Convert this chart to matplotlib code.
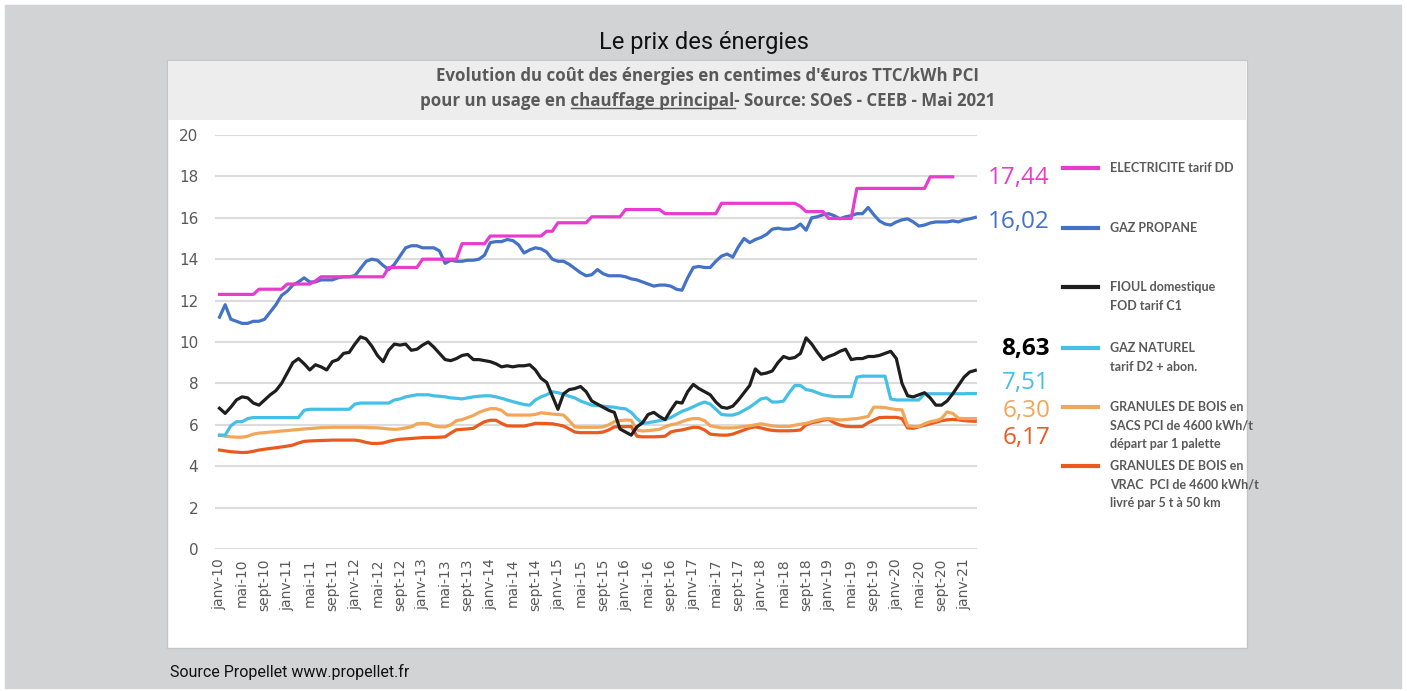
import numpy as np
import matplotlib
matplotlib.use("Agg")
import matplotlib.pyplot as plt
from matplotlib.patches import Rectangle
from matplotlib.lines import Line2D

W, H = 1407, 691

# month labels, one tick every 4 months from janv-10 to janv-21
tick_labels = [f"{mo}-{y}" for y in range(10, 22) for mo in ("janv", "mai", "sept")][:34]

# monthly prices, cents/kWh, from janv-10
electricite = [
    12.3, 12.3, 12.3, 12.3, 12.3, 12.3, 12.3, 12.55, 12.55, 12.55,
    12.55, 12.55, 12.8, 12.8, 12.8, 12.8, 12.8, 12.95, 13.15, 13.15,
    13.15, 13.15, 13.15, 13.15, 13.15, 13.15, 13.15, 13.15, 13.15, 13.15,
    13.6, 13.6, 13.6, 13.6, 13.6, 13.6, 14.0, 14.0, 14.0, 14.0,
    14.0, 14.0, 14.0, 14.75, 14.75, 14.75, 14.75, 14.75, 15.12, 15.12,
    15.12, 15.12, 15.12, 15.12, 15.12, 15.12, 15.12, 15.12, 15.35, 15.35,
    15.76, 15.76, 15.76, 15.76, 15.76, 15.76, 16.05, 16.05, 16.05, 16.05,
    16.05, 16.05, 16.4, 16.4, 16.4, 16.4, 16.4, 16.4, 16.4, 16.2,
    16.2, 16.2, 16.2, 16.2, 16.2, 16.2, 16.2, 16.2, 16.2, 16.7,
    16.7, 16.7, 16.7, 16.7, 16.7, 16.7, 16.7, 16.7, 16.7, 16.7,
    16.7, 16.7, 16.7, 16.55, 16.3, 16.3, 16.3, 16.3, 15.97, 15.97,
    15.97, 15.97, 15.97, 17.42, 17.42, 17.42, 17.42, 17.42, 17.42, 17.42,
    17.42, 17.42, 17.42, 17.42, 17.42, 17.42, 17.98, 17.98, 17.98, 17.98,
    17.98,
]
propane = [
    11.2, 11.8, 11.1, 11.0, 10.9, 10.9, 11.0, 11.0, 11.1, 11.45,
    11.8, 12.25, 12.45, 12.75, 12.9, 13.1, 12.9, 12.9, 13.0, 13.0,
    13.0, 13.1, 13.15, 13.15, 13.2, 13.55, 13.9, 14.0, 13.95, 13.7,
    13.5, 13.75, 14.15, 14.55, 14.65, 14.65, 14.55, 14.55, 14.55, 14.4,
    13.8, 13.95, 13.9, 13.9, 13.95, 13.95, 14.0, 14.2, 14.8, 14.85,
    14.85, 14.95, 14.9, 14.7, 14.3, 14.45, 14.55, 14.5, 14.35, 14.0,
    13.9, 13.9, 13.75, 13.55, 13.35, 13.2, 13.25, 13.5, 13.3, 13.2,
    13.2, 13.2, 13.15, 13.05, 13.0, 12.9, 12.8, 12.7, 12.75, 12.75,
    12.7, 12.55, 12.5, 13.1, 13.6, 13.65, 13.6, 13.6, 13.9, 14.15,
    14.25, 14.1, 14.6, 15.0, 14.8, 14.95, 15.05, 15.2, 15.45, 15.5,
    15.45, 15.45, 15.5, 15.7, 15.4, 16.0, 16.05, 16.15, 16.2, 16.1,
    15.95, 16.05, 16.1, 16.2, 16.2, 16.5, 16.15, 15.85, 15.7, 15.65,
    15.8, 15.9, 15.95, 15.8, 15.6, 15.65, 15.75, 15.8, 15.8, 15.8,
    15.85, 15.8, 15.9, 15.95, 16.02,
]
fioul = [
    6.8, 6.55, 6.85, 7.2, 7.35, 7.3, 7.05, 6.95, 7.2, 7.45,
    7.65, 8.0, 8.5, 9.0, 9.2, 8.95, 8.65, 8.9, 8.8, 8.65,
    9.05, 9.15, 9.45, 9.5, 9.9, 10.25, 10.15, 9.8, 9.35, 9.05,
    9.6, 9.9, 9.85, 9.9, 9.6, 9.65, 9.85, 10.0, 9.75, 9.45,
    9.15, 9.1, 9.2, 9.35, 9.4, 9.15, 9.15, 9.1, 9.05, 8.95,
    8.8, 8.85, 8.8, 8.85, 8.85, 8.9, 8.65, 8.25, 8.05, 7.4,
    6.75, 7.5, 7.7, 7.75, 7.85, 7.6, 7.15, 7.0, 6.85, 6.7,
    6.6, 5.8, 5.65, 5.5, 5.9, 6.1, 6.5, 6.6, 6.4, 6.25,
    6.7, 7.1, 7.05, 7.6, 7.95, 7.75, 7.6, 7.45, 7.1, 6.85,
    6.8, 6.9, 7.2, 7.55, 7.9, 8.7, 8.45, 8.5, 8.6, 9.0,
    9.3, 9.2, 9.25, 9.45, 10.2, 9.9, 9.5, 9.15, 9.3, 9.4,
    9.55, 9.65, 9.15, 9.2, 9.2, 9.3, 9.3, 9.35, 9.45, 9.55,
    9.2, 8.0, 7.4, 7.35, 7.45, 7.55, 7.3, 6.95, 6.95, 7.15,
    7.5, 7.9, 8.3, 8.55, 8.63,
]
gaz_naturel = [
    5.5, 5.5, 5.95, 6.15, 6.15, 6.3, 6.35, 6.35, 6.35, 6.35,
    6.35, 6.35, 6.35, 6.35, 6.35, 6.7, 6.75, 6.75, 6.75, 6.75,
    6.75, 6.75, 6.75, 6.75, 7.0, 7.05, 7.05, 7.05, 7.05, 7.05,
    7.05, 7.2, 7.25, 7.35, 7.4, 7.45, 7.45, 7.45, 7.4, 7.38,
    7.35, 7.3, 7.28, 7.25, 7.3, 7.35, 7.38, 7.4, 7.4, 7.35,
    7.28, 7.2, 7.12, 7.05, 6.98, 6.95, 7.2, 7.35, 7.45, 7.6,
    7.55, 7.48, 7.38, 7.3, 7.15, 7.05, 6.95, 6.93, 6.9, 6.87,
    6.85, 6.8, 6.77, 6.6, 6.3, 6.07, 6.1, 6.15, 6.2, 6.25,
    6.35, 6.5, 6.65, 6.75, 6.87, 7.0, 7.1, 7.0, 6.75, 6.5,
    6.47, 6.47, 6.55, 6.7, 6.85, 7.05, 7.25, 7.3, 7.1, 7.1,
    7.15, 7.55, 7.9, 7.9, 7.7, 7.65, 7.55, 7.45, 7.4, 7.36,
    7.36, 7.36, 7.36, 8.3, 8.35, 8.35, 8.35, 8.35, 8.35, 7.25,
    7.2, 7.2, 7.2, 7.2, 7.2, 7.5, 7.5, 7.5, 7.5, 7.5,
    7.5, 7.5, 7.5, 7.51, 7.51,
]
granules_sacs = [
    5.5, 5.45, 5.42, 5.4, 5.4, 5.45, 5.55, 5.6, 5.62, 5.65,
    5.67, 5.7, 5.72, 5.75, 5.77, 5.8, 5.82, 5.84, 5.86, 5.87,
    5.88, 5.88, 5.88, 5.88, 5.88, 5.88, 5.87, 5.86, 5.85, 5.83,
    5.8, 5.78, 5.8, 5.85, 5.9, 6.05, 6.07, 6.05, 5.95, 5.9,
    5.9, 6.0, 6.2, 6.25, 6.35, 6.45, 6.6, 6.7, 6.78, 6.78,
    6.7, 6.48, 6.47, 6.47, 6.47, 6.47, 6.5, 6.58, 6.55, 6.52,
    6.5, 6.47, 6.2, 5.9, 5.88, 5.88, 5.88, 5.88, 5.9, 6.0,
    6.15, 6.2, 6.23, 6.22, 5.75, 5.7, 5.72, 5.75, 5.78, 5.9,
    6.0, 6.05, 6.15, 6.25, 6.3, 6.3, 6.2, 5.95, 5.9, 5.85,
    5.85, 5.85, 5.88, 5.92, 5.95, 6.0, 6.05, 6.0, 5.95, 5.92,
    5.92, 5.92, 5.98, 6.03, 6.07, 6.15, 6.22, 6.28, 6.3, 6.27,
    6.24, 6.25, 6.28, 6.3, 6.35, 6.4, 6.85, 6.85, 6.83, 6.78,
    6.74, 6.72, 5.95, 5.92, 5.92, 6.05, 6.15, 6.2, 6.3, 6.62,
    6.55, 6.32, 6.3, 6.3, 6.3,
]
granules_vrac = [
    4.78, 4.74, 4.7, 4.68, 4.66, 4.67, 4.72, 4.78, 4.82, 4.86,
    4.89, 4.93, 4.97, 5.02, 5.12, 5.2, 5.22, 5.23, 5.24, 5.25,
    5.26, 5.26, 5.26, 5.26, 5.26, 5.22, 5.15, 5.1, 5.1, 5.12,
    5.2, 5.26, 5.3, 5.32, 5.34, 5.36, 5.38, 5.39, 5.39, 5.4,
    5.42, 5.6, 5.76, 5.78, 5.8, 5.83, 6.0, 6.15, 6.22, 6.22,
    6.07, 5.95, 5.94, 5.94, 5.94, 6.0, 6.07, 6.07, 6.06, 6.05,
    6.0, 5.94, 5.8, 5.65, 5.62, 5.62, 5.62, 5.62, 5.65, 5.75,
    5.9, 5.91, 5.91, 5.92, 5.45, 5.42, 5.42, 5.42, 5.43, 5.45,
    5.65, 5.72, 5.75, 5.82, 5.88, 5.87, 5.75, 5.55, 5.52, 5.5,
    5.5, 5.55, 5.65, 5.75, 5.85, 5.9, 5.85, 5.78, 5.73, 5.71,
    5.71, 5.71, 5.72, 5.75, 6.0, 6.1, 6.15, 6.22, 6.26, 6.1,
    5.99, 5.93, 5.91, 5.91, 5.92, 6.1, 6.23, 6.35, 6.36, 6.36,
    6.36, 6.3, 5.85, 5.83, 5.9, 5.98, 6.05, 6.12, 6.2, 6.24,
    6.26, 6.24, 6.2, 6.18, 6.17,
]

last_values = ["17,44", "16,02", "8,63", "7,51", "6,30", "6,17"]

C_ELEC = "#e83ccf"
C_PROP = "#4472c4"
C_FIOUL = "#1e1e1e"
C_GAZ = "#45bfe6"
C_SACS = "#f2a65a"
C_VRAC = "#ea5a1e"
GREY_TXT = "#595959"

COND = ["Roboto", "DejaVu Sans"]


def fx(px):
    return px / W


def fy(py):
    return 1 - py / H


fig = plt.figure(figsize=(W / 100, H / 100), dpi=100, facecolor="white")

# background boxes
fig.add_artist(Rectangle((fx(5), fy(688)), fx(1396), (683) / H,
                         transform=fig.transFigure, color="#d2d3d5", zorder=0))
fig.add_artist(Rectangle((fx(167), fy(648)), fx(1080), (648 - 60) / H,
                         transform=fig.transFigure, facecolor="white",
                         edgecolor="#c4c5c7", lw=1.0, zorder=0.5))
fig.add_artist(Rectangle((fx(168), fy(120)), fx(1078), (120 - 61) / H,
                         transform=fig.transFigure, facecolor="#ededee",
                         edgecolor="none", zorder=0.6))

fig.text(0.5, fy(42), "Le prix des énergies", ha="center", va="center",
         fontsize=17, family=COND, color="#111111")

sub_kw = dict(fontsize=12.2, family=["Open Sans", "DejaVu Sans"],
              weight="bold", color=GREY_TXT)
fig.text(fx(708), fy(76), "Evolution du coût des énergies en centimes d'€uros TTC/kWh PCI",
         ha="center", va="center", **sub_kw)
line2 = "pour un usage en chauffage principal- Source: SOeS - CEEB - Mai 2021"
t2 = fig.text(fx(708), fy(101), line2, ha="center", va="center", **sub_kw)

fig.text(fx(170), fy(672), "Source Propellet www.propellet.fr", ha="left",
         va="center", fontsize=11.5, family=COND, color="#111111")

# plot area
ax = fig.add_axes([fx(215), fy(549), (977 - 215) / W, (549 - 135) / H])
ax.set_zorder(2)
ax.set_facecolor("none")
ax.plot(np.arange(len(granules_vrac)), granules_vrac, color=C_VRAC, lw=2.3)
ax.plot(np.arange(len(granules_sacs)), granules_sacs, color=C_SACS, lw=2.3)
ax.plot(np.arange(len(gaz_naturel)), gaz_naturel, color=C_GAZ, lw=2.3)
ax.plot(np.arange(len(fioul)), fioul, color=C_FIOUL, lw=2.3)
ax.plot(np.arange(len(propane)), propane, color=C_PROP, lw=2.3)
ax.plot(np.arange(len(electricite)), electricite, color=C_ELEC, lw=2.3)

ax.set_ylim(0, 20)
ax.set_xlim(-0.8, 134.3)
ax.set_yticks(range(0, 21, 2))
ax.set_xticks(np.arange(0, 4 * len(tick_labels), 4))
ax.set_xticklabels(tick_labels, rotation=90, fontsize=10, color=GREY_TXT)
ax.tick_params(axis="y", length=0, pad=12, labelsize=11, labelcolor=GREY_TXT)
ax.tick_params(axis="x", length=0, pad=7)
ax.grid(axis="y", color="#dcdcdc", lw=1.5)
ax.set_axisbelow(True)
for s in ax.spines.values():
    s.set_visible(False)

# end values
val_colors = [C_ELEC, C_PROP, "#000000", C_GAZ, C_SACS, C_VRAC]
val_y = [178, 222, 349, 383, 411, 438]
for txt, c, py in zip(last_values, val_colors, val_y):
    fig.text(fx(1050), fy(py), txt, ha="right", va="center", fontsize=17.5,
             family=["Open Sans", "DejaVu Sans"], color=c,
             weight="bold" if c == "#000000" else "normal", zorder=3)

# legend
legend_items = [
    (C_ELEC, 168, ["ELECTRICITE tarif DD"]),
    (C_PROP, 228, ["GAZ PROPANE"]),
    (C_FIOUL, 287, ["FIOUL domestique", "FOD tarif C1"]),
    (C_GAZ, 348, ["GAZ NATUREL", "tarif D2 + abon."]),
    (C_SACS, 407, ["GRANULES DE BOIS en", "SACS PCI de 4600 kWh/t", "départ par 1 palette"]),
    (C_VRAC, 466, ["GRANULES DE BOIS en", "VRAC  PCI de 4600 kWh/t", "livré par 5 t à 50 km"]),
]
for c, py, lines in legend_items:
    fig.add_artist(Line2D([fx(1063), fx(1098)], [fy(py), fy(py)], color=c,
                          lw=3, transform=fig.transFigure, zorder=3))
    for i, ln in enumerate(lines):
        fig.text(fx(1110), fy(py + 18.5 * i), ln, ha="left", va="center",
                 fontsize=9, family=["Lato", "DejaVu Sans"], weight="bold",
                 color=GREY_TXT, zorder=3)

# underline "chauffage principal"
fig.canvas.draw()
r = fig.canvas.get_renderer()
bb = t2.get_window_extent(r)
tmp = fig.text(0, 0, "pour un usage en ", **sub_kw)
w_pre = tmp.get_window_extent(r).width
tmp.set_text("pour un usage en chauffage principal")
w_all = tmp.get_window_extent(r).width
tmp.remove()
x0 = bb.x0 + w_pre
x1 = bb.x0 + w_all
yl = bb.y0 + 2
fig.add_artist(Line2D([x0 / fig.bbox.width, x1 / fig.bbox.width],
                      [yl / fig.bbox.height, yl / fig.bbox.height],
                      color=GREY_TXT, lw=1, transform=fig.transFigure, zorder=3))

fig.savefig("out.png", dpi=100, facecolor="white")
